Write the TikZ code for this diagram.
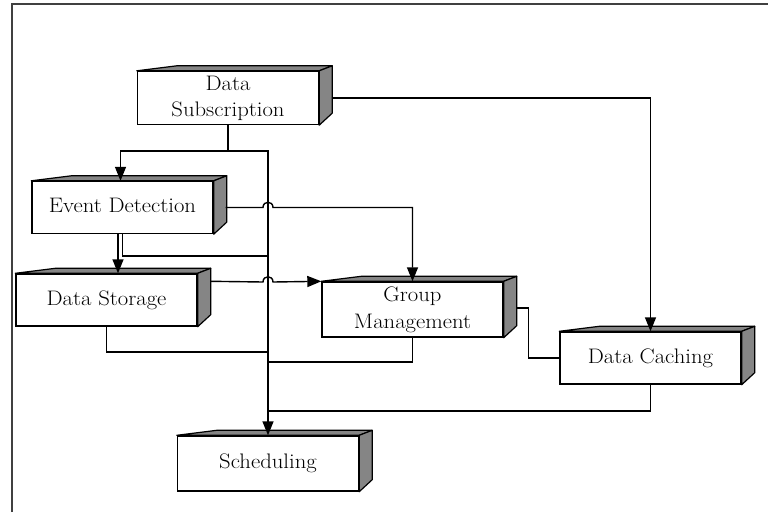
\documentclass[tikz,border=0pt]{standalone}
\usepackage{fontspec}
\usepackage{graphicx}
\usetikzlibrary{arrows.meta,calc}
\tikzset{
  face/.style={draw, line width=1.4pt, fill=white, minimum width=181pt,
    minimum height=52pt, inner sep=0pt,
    font=\fontsize{21}{26.5}\selectfont},
  side/.style={draw, line width=1.2pt, fill=black!48, line join=round},
  link/.style={line width=1.4pt},
  tolink/.style={link, -{Triangle[length=14pt,width=11pt]}},
  frameline/.style={line width=2.4pt, draw=black!75},
}
% slightly widened, centred label lines
\newcommand\boxtext[1]{\scalebox{1.08}[1]{\begin{tabular}{@{}c@{}}#1\end{tabular}}}
% top and right faces of a box drawn behind a front-face node
\newcommand\cubesides[1]{%
  \filldraw[side] (#1.north west) -- ++(40,-5) -- ($(#1.north east)+(13,-5)$)
    -- (#1.north east) -- cycle;
  \filldraw[side] (#1.north east) -- ++(13,-5) -- ($(#1.south east)+(13,-12)$)
    -- (#1.south east) -- cycle;
}
\begin{document}
\begin{tikzpicture}[x=1pt,y=-1pt]
\useasboundingbox (0,0) rectangle (768,512);
\draw[frameline] (12,512) -- (12,4) -- (768,4);

% boxes
\node[face] (sub) at (228,98) {\boxtext{Data\\Subscription}};
\node[face] (ed)  at (122.5,207.5) {\boxtext{Event Detection}};
\node[face] (st)  at (106.5,300) {\boxtext{Data Storage}};
\node[face, minimum height=55pt] (gm) at (412.5,309.5) {\boxtext{Group\\Management}};
\node[face] (dc)  at (650.5,358) {\boxtext{Data Caching}};
\node[face, minimum height=55pt] (sch) at (268,463.5) {\boxtext{Scheduling}};
\foreach \b in {sub,ed,st,gm,dc,sch} {\cubesides{\b}}

% shared vertical bus towards Scheduling
\coordinate (bus) at (268,151);
\draw[tolink] (sub.south) |- (bus) -- (bus |- sch.north);
\draw[tolink] (sub.south |- bus) -| ($(ed.north)+(-2,0)$);

% Data Subscription -> Data Caching
\draw[tolink] ($(sub.east)+(13,0)$) -| (dc.north);

% Event Detection -> Group Management (hop over the bus)
\draw[tolink] ($(ed.east)+(12,0)$) -- (263,207.5)
  .. controls (263,200.5) and (273,200.5) .. (273,207.5) -| (gm.north);

% Event Detection -> Data Storage
\coordinate (edout) at ($(ed.south)+(-4.5,0)$);
\draw[tolink] (edout) -- (edout |- st.north);
% Event Detection -> bus
\draw[link] (ed.south) |- ($(bus)+(0,105)$);

% Data Storage -> Group Management (hop over the bus)
\draw[tolink] ($(st.north east)+(13,8)$) -- (263,282)
  .. controls (263,275) and (273,275) .. (273,282) -- (gm.north west);

% returns to the bus
\draw[link] (st.south) |- ($(bus)+(0,201)$);
\draw[link] (gm.south) |- ($(bus)+(0,211)$);
\draw[link] (dc.south) |- ($(bus)+(0,260)$);

% Group Management -> Data Caching
\draw[link] ($(gm.east)+(13,-1.5)$) -- ++(12,0) |- (dc.west);
\end{tikzpicture}
\end{document}
